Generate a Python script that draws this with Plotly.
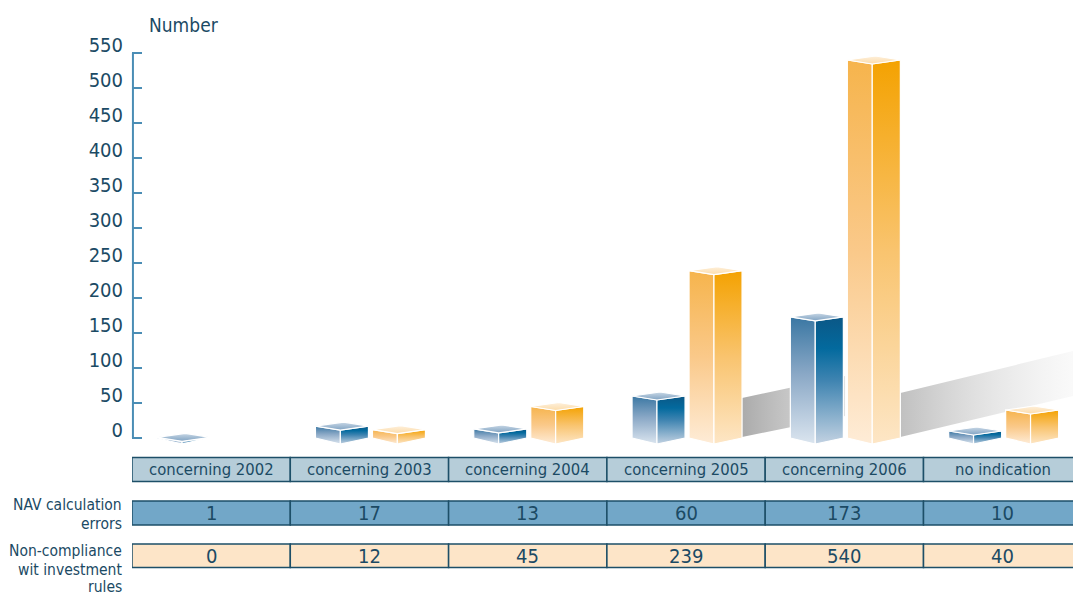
import plotly.graph_objects as go

# ---- data -------------------------------------------------------------
categories = ["concerning 2002", "concerning 2003", "concerning 2004",
              "concerning 2005", "concerning 2006", "no indication"]
nav_errors = [1, 17, 13, 60, 173, 10]
non_compliance = [0, 12, 45, 239, 540, 40]
y_ticks = [0, 50, 100, 150, 200, 250, 300, 350, 400, 450, 500, 550]
row_labels = [["NAV calculation", "errors"],
              ["Non-compliance", "wit investment", "rules"]]
y_title = "Number"

# ---- page geometry ----------------------------------------------------
W, H = 1073, 595
ML = 132            # left margin (axis position)
PX_X = 158.3        # pixels per category column
PX_Y = 0.7          # pixels per counted case
ZERO_PX = 438       # pixel row of the zero line

x_range = [-0.5, -0.5 + (W - ML) / PX_X]
y_range = [-(H - ZERO_PX) / PX_Y, ZERO_PX / PX_Y]


def dx(p):
    return p / PX_X


def dy(p):
    return p / PX_Y


def paper_y(p):
    return 1 - p / H


FONT = "DejaVu Sans Condensed, Liberation Sans Narrow, sans-serif"
TEXT_COLOR = "#1b4a64"
AXIS_COLOR = "#4a8db5"

# pseudo-3D prism settings
BAR_W = dx(53)
FRONT = 0.47
D_BOT = dy(6)
D_TOP = dy(4)
D_BACK = dy(4)

BLUE = dict(
    offset=dx(-27.5),
    left=[[0, "#dbe5ef"], [0.55, "#8aa8c6"], [1, "#3a77a3"]],
    right=[[0, "#c3d2e2"], [0.5, "#3f84b1"], [0.75, "#036a9e"], [1, "#0b5786"]],
    top=[[0, "#7fa2c2"], [1, "#c9d8e6"]],
)
ORANGE = dict(
    offset=dx(29.5),
    left=[[0, "#feecd7"], [0.5, "#fac98a"], [1, "#f6b44c"]],
    right=[[0, "#fde6c6"], [0.5, "#f9c46f"], [1, "#f4a201"]],
    top=[[0, "#fcdca9"], [1, "#fef0dc"]],
)

fig = go.Figure()


def face(xs, ys, scale):
    fig.add_trace(go.Scatter(
        x=xs, y=ys, mode="lines", fill="toself",
        fillgradient=dict(type="vertical", colorscale=scale),
        line=dict(color="white", width=1.2),
        hoverinfo="skip", showlegend=False))


def prism(xc, v, pal):
    x0, x1 = xc - BAR_W / 2, xc + BAR_W / 2
    xe = x0 + FRONT * BAR_W
    xb = x0 + (1 - FRONT) * BAR_W
    face([x0, xe, xe, x0, x0], [0, -D_BOT, v - D_TOP, v, 0], pal["left"])
    face([xe, x1, x1, xe, xe], [-D_BOT, 0, v, v - D_TOP, -D_BOT], pal["right"])
    face([x0, xe, x1, xb, x0], [v, v - D_TOP, v, v + D_BACK, v], pal["top"])


def shadow(i, length, rise, thick, c0, c1):
    xs0 = i + ORANGE["offset"] + BAR_W / 2
    xs1 = xs0 + dx(length)
    fig.add_trace(go.Scatter(
        x=[xs0, xs1, xs1, xs0, xs0],
        y=[dy(1), dy(rise), dy(rise + thick), dy(thick), dy(1)],
        mode="none", fill="toself",
        fillgradient=dict(type="horizontal", colorscale=[
            [0, c0], [1, c1]]),
        hoverinfo="skip", showlegend=False))


# soft shadows cast to the right by the two tallest columns
shadow(3, 103, 22, 40, "rgba(150,150,150,0.8)", "rgba(205,205,205,0.6)")
shadow(4, 185, 45, 45, "rgba(165,165,165,0.7)", "rgba(240,240,240,0.25)")

for i, (b, o) in enumerate(zip(nav_errors, non_compliance)):
    if b > 0:
        prism(i + BLUE["offset"], b, BLUE)
    if o > 0:
        prism(i + ORANGE["offset"], o, ORANGE)

# ---- table under the chart -------------------------------------------
shapes = []
annotations = []
rows = [
    (457.5, 481.5, "#b6cdd9", categories, 16.5),
    (501.0, 525.0, "#72a7c8", [str(v) for v in nav_errors], 20),
    (544.0, 567.5, "#fde5c8", [str(v) for v in non_compliance], 20),
]
for top_px, bot_px, fill, texts, fsize in rows:
    for i, t in enumerate(texts):
        shapes.append(dict(
            type="rect", xref="x", yref="paper",
            x0=i - 0.5, x1=i + 0.5, y0=paper_y(bot_px), y1=paper_y(top_px),
            fillcolor=fill, line=dict(color="#1d4f68", width=1.5), layer="below"))
        annotations.append(dict(
            xref="x", yref="paper", x=i, y=paper_y((top_px + bot_px) / 2),
            text=t, showarrow=False, xanchor="center", yanchor="middle",
            font=dict(family=FONT, size=fsize, color=TEXT_COLOR)))

# row captions, one annotation per line
label_lines_px = [[505, 524], [551, 569.5, 587]]
for lines, ys in zip(row_labels, label_lines_px):
    for line, ypx in zip(lines, ys):
        annotations.append(dict(
            xref="paper", yref="paper", x=(124 - ML) / (W - ML), y=paper_y(ypx),
            text=line, showarrow=False, xanchor="right", yanchor="middle",
            font=dict(family=FONT, size=15.5, color=TEXT_COLOR)))

# axis title
annotations.append(dict(
    xref="paper", yref="paper", x=(147 - ML) / (W - ML), y=paper_y(25),
    text=y_title, showarrow=False, xanchor="left", yanchor="middle",
    font=dict(family=FONT, size=19, color=TEXT_COLOR)))

# vertical axis line spanning the tick range only
shapes.append(dict(type="line", xref="paper", yref="y", x0=0.001, x1=0.001,
                   y0=y_ticks[0], y1=y_ticks[-1],
                   line=dict(color=AXIS_COLOR, width=2)))

fig.update_layout(
    width=W, height=H,
    margin=dict(l=ML, r=0, t=0, b=0),
    paper_bgcolor="white", plot_bgcolor="white",
    shapes=shapes, annotations=annotations,
    showlegend=False,
    xaxis=dict(range=x_range, visible=False, fixedrange=True),
    yaxis=dict(
        range=y_range, tickvals=y_ticks, ticktext=[str(v) for v in y_ticks],
        ticks="inside", ticklen=10, tickwidth=2, tickcolor=AXIS_COLOR,
        showgrid=False, zeroline=False, showline=False,
        tickfont=dict(family=FONT, size=20, color=TEXT_COLOR),
        ticklabelshift=-8, ticklabelstandoff=8, fixedrange=True),
)

fig.write_html("out.html")
